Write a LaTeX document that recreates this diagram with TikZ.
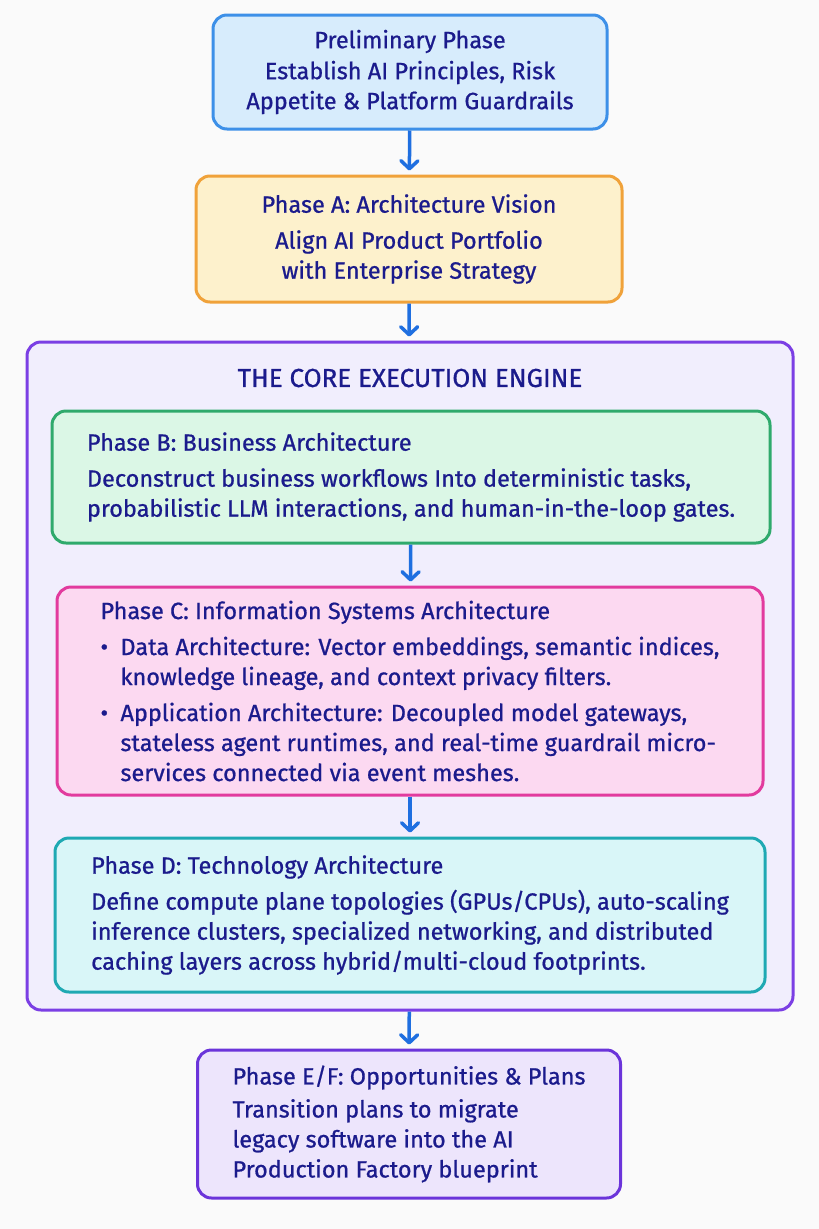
\documentclass[tikz,border=0pt]{standalone}
\usepackage{fontspec}
\setmainfont[FakeBold=0.8]{Fira Sans}
\usetikzlibrary{arrows.meta}

\definecolor{pagebg}{HTML}{FAFAFA}
\definecolor{inkblue}{HTML}{1B1B8C}
\definecolor{arrowblue}{HTML}{1F6FE0}
\definecolor{prelimfill}{HTML}{D7ECFC}
\definecolor{prelimline}{HTML}{3D90E8}
\definecolor{visionfill}{HTML}{FDF1CC}
\definecolor{visionline}{HTML}{F0A23A}
\definecolor{corefill}{HTML}{F1EEFD}
\definecolor{coreline}{HTML}{7B3FE4}
\definecolor{busfill}{HTML}{DBF7E6}
\definecolor{busline}{HTML}{2FAA6C}
\definecolor{infofill}{HTML}{FCD9F1}
\definecolor{infoline}{HTML}{E23B9E}
\definecolor{techfill}{HTML}{D9F6F8}
\definecolor{techline}{HTML}{1FA9B3}
\definecolor{planfill}{HTML}{EDE5FC}
\definecolor{planline}{HTML}{6B34DA}

\newcommand{\bul}{\makebox[20pt][l]{\textbullet}}
\newcommand{\ind}{\hspace*{20pt}}

\begin{document}
\begin{tikzpicture}[x=1pt, y=-1pt,
  phase/.style = {shape=rectangle, rounded corners=14pt, line width=3pt,
    text=inkblue, inner sep=0pt,
    font=\fontsize{23.5}{30}\selectfont},
  flow/.style = {draw=arrowblue, line width=3.5pt, shorten >=4pt,
    -{Straight Barb[length=8pt,width=17pt,round]}}]
  \fill[pagebg] (0,0) rectangle (819,1229);

  % outer phases
  \node[phase, align=center, draw=prelimline, fill=prelimfill,
    minimum width=394pt, minimum height=114pt] (prelim) at (410,72)
    {Preliminary Phase\\[1pt]
     Establish AI Principles, Risk\\
     Appetite \& Platform Guardrails};
  \node[phase, align=center, draw=visionline, fill=visionfill,
    minimum width=426pt, minimum height=126pt] (vision) at (409,239)
    {Phase A: Architecture Vision\\[6pt]
     Align AI Product Portfolio\\
     with Enterprise Strategy};

  % the engine
  \node[phase, draw=coreline, fill=corefill,
    minimum width=766pt, minimum height=668pt] (core) at (410,676) {};
  \node[text=inkblue, font=\fontsize{26}{30}\selectfont] (coretitle)
    at (410,378) {THE CORE EXECUTION ENGINE};
  \node[phase, align=left, draw=busline, fill=busfill,
    minimum width=718pt, minimum height=132pt] (business) at (411,477)
    {Phase B: Business Architecture\\[6pt]
     Deconstruct business workflows Into deterministic tasks,\\
     probabilistic LLM interactions, and human-in-the-loop gates.};
  \node[phase, align=left, draw=infoline, fill=infofill,
    minimum width=706pt, minimum height=208pt] (infosys) at (410,691)
    {Phase C: Information Systems Architecture\\[6pt]
     \bul Data Architecture: Vector embeddings, semantic indices,\\
     \ind knowledge lineage, and context privacy filters.\\[6pt]
     \bul Application Architecture: Decoupled model gateways,\\
     \ind stateless agent runtimes, and real-time guardrail micro-\\
     \ind services connected via event meshes.};
  \node[phase, align=left, draw=techline, fill=techfill,
    minimum width=710pt, minimum height=154pt] (tech) at (410,915)
    {Phase D: Technology Architecture\\[6pt]
     Define compute plane topologies (GPUs/CPUs), auto-scaling\\
     inference clusters, specialized networking, and distributed\\
     caching layers across hybrid/multi-cloud footprints.};

  % after the engine
  \node[phase, align=left, draw=planline, fill=planfill,
    minimum width=423pt, minimum height=148pt] (plans) at (409,1124)
    {Phase E/F: Opportunities \& Plans\\[3pt]
     Transition plans to migrate\\
     legacy software into the AI\\
     Production Factory blueprint};

  \draw[flow] (prelim) -- (vision);
  \draw[flow] (vision) -- (core);
  \draw[flow] (business) -- (infosys);
  \draw[flow] (infosys) -- (tech);
  \draw[flow] (core) -- (plans);
\end{tikzpicture}
\end{document}
